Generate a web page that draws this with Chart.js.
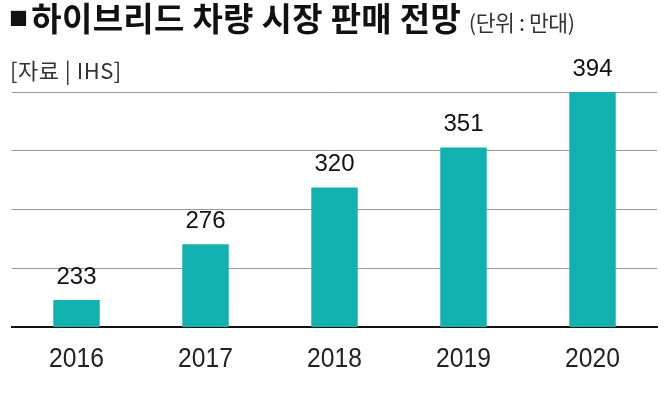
<!DOCTYPE html>
<html>
<head>
<meta charset="utf-8">
<script src="https://cdn.jsdelivr.net/npm/chart.js@4"></script>
<style>
  body { margin: 0; background: #fff; }
  #wrap { position: relative; width: 671px; height: 393px; overflow: hidden; }
  #chart { position: absolute; left: 0; top: 0; }
  .titulo { position: absolute; left: 9px; top: -7px; font-family: "Noto Sans CJK KR"; font-weight: bold; font-size: 33px; color: #111; letter-spacing: 0.3px; white-space: nowrap; }
  .titulo .cuadro { font-size: 19px; vertical-align: 5px; margin-right: 3px; }
  .titulo .unidad { font-weight: normal; font-size: 21.5px; color: #333; letter-spacing: -0.4px; }
  .fuente { position: absolute; left: 10px; top: 53px; font-family: "Noto Sans CJK KR"; font-size: 22px; color: #333; letter-spacing: 0.5px; }
</style>
</head>
<body>
<div id="wrap">
  <canvas id="chart" width="671" height="393"></canvas>
  <div class="titulo"><span class="cuadro">■</span>하이브리드 차량 시장 판매 전망 <span class="unidad">(단위 : 만대)</span></div>
  <div class="fuente">[자료 | IHS]</div>
</div>
<script>
const anios = ['2016', '2017', '2018', '2019', '2020'];
const ventas = [233, 276, 320, 351, 394];

const ctx = document.getElementById('chart');

// valores encima de las barras y años condensados debajo del eje
const rotulos = {
    id: 'rotulos',
    afterDatasetsDraw(chart) {
        const c = chart.ctx;
        const meta = chart.getDatasetMeta(0);
        const ejeX = chart.scales.x;
        c.save();
        c.fillStyle = '#111';
        c.textAlign = 'center';
        c.textBaseline = 'bottom';
        c.font = '24px "Liberation Sans", sans-serif';
        meta.data.forEach((barra, i) => {
            c.fillText(ventas[i], barra.x, barra.y - 11);
        });
        c.textBaseline = 'middle';
        c.font = '28px "Liberation Sans", sans-serif';
        c.fillStyle = '#222';
        anios.forEach((anio, i) => {
            const x = ejeX.getPixelForTick(i);
            c.save();
            c.translate(x, ejeX.bottom + 32);
            c.scale(0.88, 1);
            c.fillText(anio, 0, 0);
            c.restore();
        });
        c.restore();
    }
};

new Chart(ctx, {
    type: 'bar',
    data: {
        labels: anios,
        datasets: [{
            data: ventas,
            backgroundColor: '#10b2af',
            borderWidth: 0,
            barPercentage: 0.36,
            categoryPercentage: 1
        }]
    },
    options: {
        responsive: false,
        animation: false,
        layout: { padding: { left: 12, right: 14, top: 92, bottom: 66 } },
        plugins: {
            legend: { display: false },
            tooltip: { enabled: false }
        },
        scales: {
            x: {
                grid: { display: false, drawTicks: false },
                border: { color: '#111', width: 2 },
                ticks: { display: false }
            },
            y: {
                min: 212,
                max: 394,
                grid: { color: '#999', lineWidth: 1, drawTicks: false },
                border: { display: false },
                ticks: { display: false, stepSize: 45.5 }
            }
        }
    },
    plugins: [rotulos]
});
</script>
</body>
</html>
